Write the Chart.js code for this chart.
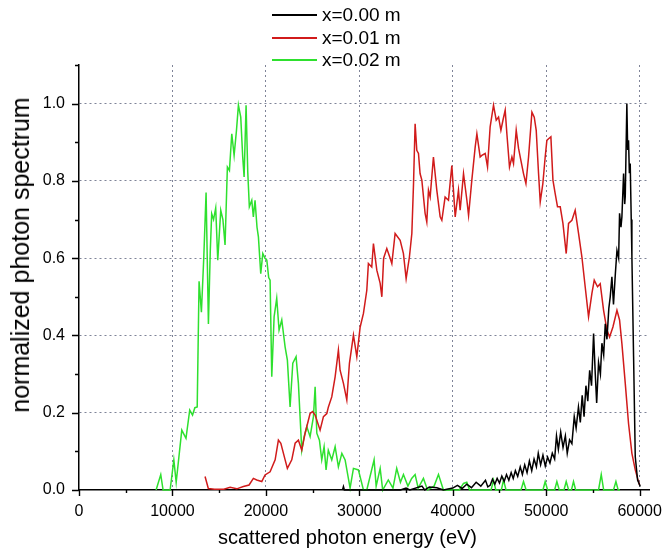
<!DOCTYPE html>
<html>
<head>
<meta charset="utf-8">
<script src="https://cdn.jsdelivr.net/npm/chart.js@4.4.1/dist/chart.umd.min.js"></script>
<style>
    html, body {
        margin: 0;
        padding: 0;
        background: #fff;
    }
    .wrap {
        position: relative;
        width: 663px;
        height: 548px;
        overflow: hidden;
        font-family: "Liberation Sans", Arial, sans-serif;
    }
    #cSpec {
        position: absolute;
        left: 0;
        top: 0;
    }
    .legend {
        position: absolute;
        left: 272px;
        top: 4px;
    }
    .legend-item {
        display: flex;
        align-items: center;
        height: 22.5px;
        font-size: 19px;
        color: #000;
        white-space: nowrap;
    }
    .legend-line {
        display: inline-block;
        width: 45px;
        height: 1.6px;
        margin-right: 5px;
    }
    .x-title {
        position: absolute;
        left: 0;
        width: 695px;
        top: 525px;
        text-align: center;
        font-size: 20px;
        line-height: 24px;
    }
    .y-title {
        position: absolute;
        left: 20px;
        top: 255px;
        font-size: 25px;
        line-height: 26px;
        white-space: nowrap;
        transform: translate(-50%, -50%) rotate(-90deg);
    }
</style>
</head>
<body>
<div class="wrap">
    <canvas id="cSpec" width="663" height="548"></canvas>
    <div class="legend" id="legend"></div>
    <div class="y-title">normalized photon spectrum</div>
    <div class="x-title">scattered photon energy (eV)</div>
</div>

<script>
/* data */

const LABELS = ["x=0.00 m", "x=0.01 m", "x=0.02 m"];
const COLORS = ["#000000", "#d11b1b", "#2ee02e"];

const X_TICKS = [0, 10000, 20000, 30000, 40000, 50000, 60000];
const Y_TICKS = [0, 0.2, 0.4, 0.6, 0.8, 1.0];

// x = 0.00 m (black)
const blackE = [28200, 28300, 28400, 34400, 35000, 35400, 36700, 37000, 37500, 38300, 39000,
    40000, 40500, 41000, 41500, 42000, 42500, 43000, 43500, 43750,
    44000, 44250, 44500, 44750, 45000, 45250, 45500, 45750, 46000, 46250, 46470, 46700,
    46950, 47220, 47450, 47700, 47950, 48200, 48450, 48700, 48950, 49150, 49400, 49650,
    49900, 50150, 50400, 50650, 50900, 51100, 51300, 51550, 51800, 52050, 52250, 52500,
    52750, 53000, 53200, 53450, 53650, 53850, 54050, 54250, 54450, 54650, 54850, 55070,
    55250, 55400, 55600, 55800, 55960, 56150, 56320, 56500, 56700, 56850, 57030, 57200,
    57400, 57570, 57750, 57850, 58000, 58100, 58280, 58400, 58460, 58630, 58720, 58810,
    58900, 58990, 59100, 59170, 59350, 59530, 59780, 60070];
const blackV = [0, 0.009, 0, 0, 0.005, 0, 0.01, 0, 0.008, 0.006, 0,
    0.005, 0.012, 0.004, 0.015, 0.006, 0.02, 0.01, 0.025, 0.008,
    0.012, 0.028, 0.015, 0.03, 0.018, 0.036, 0.022, 0.04, 0.025, 0.045, 0.03, 0.05,
    0.035, 0.06, 0.04, 0.065, 0.045, 0.075, 0.05, 0.08, 0.06, 0.095, 0.065, 0.09,
    0.062, 0.085, 0.07, 0.095, 0.08, 0.14, 0.105, 0.15, 0.11, 0.14, 0.095, 0.13,
    0.12, 0.19, 0.16, 0.215, 0.175, 0.245, 0.19, 0.27, 0.23, 0.31, 0.27, 0.405,
    0.3, 0.225, 0.33, 0.3, 0.38, 0.35, 0.43, 0.39, 0.47, 0.5, 0.552, 0.48,
    0.56, 0.62, 0.6, 0.716, 0.68, 0.707, 0.819, 0.74, 0.76, 1.0, 0.88, 0.905,
    0.82, 0.845, 0.7, 0.603, 0.345, 0.086, 0.026, 0.009];

// x = 0.01 m (red)
const redE = [13490, 13840, 14500, 15500, 16170, 16880, 17590, 18200, 18660, 19020, 19560,
    19910, 20450, 20990, 21340, 21600, 22060, 22300, 22770, 23130, 23480, 23840, 24200,
    24730, 25000, 25270, 25800, 26160, 26520, 26690, 27050, 27410, 27760, 27940, 28300,
    28660, 28940, 29370, 29730, 30090, 30440, 30800, 30970, 31330, 31510, 31870, 32230,
    32410, 32600, 32940, 33300, 33480, 33830, 34370, 34720, 35010, 35360, 35620, 35800,
    35970, 36150, 36330, 36500, 36690, 37040, 37220, 37400, 37580, 37930, 38290, 38650,
    38830, 39180, 39540, 39900, 40260, 40610, 40790, 41150, 41510, 41690, 42040, 42400,
    42580, 42930, 43110, 43470, 43720, 44000, 44360, 44650, 44900, 45150, 45370, 45610,
    45790, 46070, 46330, 46500, 46790, 47040, 47290, 47570, 47830, 48110, 48470, 48720,
    48930, 49180, 49360, 49640, 49890, 50070, 50250, 50500, 50720, 50960, 51210, 51500,
    51790, 52140, 52390, 52750, 53100, 53460, 53820, 54170, 54530, 54890, 55140, 55490,
    55780, 56140, 56500, 56780, 57140, 57570, 57850, 58100, 58460, 58810, 59170, 59530,
    59780, 59990];
const redV = [0.035, 0.004, 0.002, 0.002, 0.007, 0.003, 0.009, 0.013, 0.03, 0.026, 0.022,
    0.039, 0.047, 0.078, 0.129, 0.121, 0.078, 0.056, 0.078, 0.121, 0.129, 0.103, 0.147,
    0.198, 0.203, 0.194, 0.155, 0.19, 0.198, 0.215, 0.241, 0.293, 0.362, 0.31, 0.276,
    0.233, 0.328, 0.401, 0.345, 0.422, 0.457, 0.517, 0.586, 0.577, 0.638, 0.569, 0.535,
    0.5, 0.6, 0.625, 0.6, 0.586, 0.664, 0.646, 0.612, 0.547, 0.603, 0.664, 0.793,
    0.948, 0.879, 0.871, 0.819, 0.802, 0.716, 0.694, 0.776, 0.758, 0.862, 0.776, 0.707,
    0.698, 0.758, 0.75, 0.84, 0.707, 0.776, 0.724, 0.819, 0.75, 0.711, 0.802, 0.888,
    0.922, 0.862, 0.866, 0.871, 0.836, 0.94, 0.996, 0.957, 0.965, 0.931, 0.957, 0.983,
    0.922, 0.836, 0.862, 0.845, 0.931, 0.884, 0.853, 0.819, 0.793, 0.862, 0.978, 0.965,
    0.931, 0.819, 0.746, 0.793, 0.862, 0.905, 0.909, 0.914, 0.802, 0.767, 0.733, 0.733,
    0.69, 0.612, 0.69, 0.698, 0.724, 0.664, 0.603, 0.526, 0.448, 0.509, 0.543, 0.526,
    0.534, 0.465, 0.414, 0.396, 0.422, 0.465, 0.44, 0.379, 0.276, 0.172, 0.095, 0.052,
    0.03, 0.013];

// x = 0.02 m (green)
const greenE = [8250, 8750, 9000, 9750, 10150, 10400, 11000, 11450, 11850, 12150, 12400,
    12650, 12850, 13100, 13350, 13600, 13850, 14050, 14200, 14400, 14630, 14850, 15170,
    15400, 15630, 15880, 16100, 16350, 16600, 16850, 17060, 17310, 17520, 17670, 17880,
    18060, 18230, 18490, 18660, 18840, 19050, 19200, 19450, 19670, 19900, 20100, 20300,
    20450, 20630, 20880, 21160, 21410, 21700, 22060, 22300, 22590, 22880, 23230, 23480,
    23840, 24090, 24380, 24730, 25090, 25270, 25450, 25730, 25980, 26230, 26440, 26680,
    27050, 27410, 27760, 28130, 28480, 29010, 29370, 29900, 30440, 30800, 31580, 31800,
    32230, 32500, 33100, 33600, 34000, 34400, 34720, 35200, 35600, 35970, 36300, 36860,
    37300, 38000, 38470, 39000, 40700, 41150, 41500, 41800, 44100, 44360, 44600, 45200,
    45430, 45700, 47300, 47570, 47850, 49650, 49890, 50150, 50900, 51140, 51400, 51900,
    52140, 52400, 52700, 52920, 53150, 55600, 55890, 56150, 57200, 57460, 57700, 57900];
const greenV = [0, 0.04, 0, 0, 0.078, 0.02, 0.155, 0.134, 0.207, 0.194, 0.213,
    0.215, 0.54, 0.46, 0.6, 0.77, 0.43, 0.62, 0.715, 0.7, 0.73, 0.595, 0.724,
    0.7, 0.634, 0.836, 0.827, 0.922, 0.866, 0.93, 0.996, 0.965, 0.862, 0.81, 0.996,
    0.823, 0.733, 0.75, 0.707, 0.75, 0.68, 0.655, 0.56, 0.612, 0.6, 0.595, 0.55,
    0.543, 0.293, 0.448, 0.496, 0.414, 0.44, 0.37, 0.336, 0.215, 0.328, 0.345, 0.276,
    0.103, 0.138, 0.164, 0.138, 0.19, 0.267, 0.147, 0.129, 0.078, 0.112, 0.052, 0.103,
    0.078, 0.112, 0.06, 0.095, 0.078, 0.005, 0.056, 0.052, 0, 0, 0.078, 0.01,
    0.056, 0, 0.026, 0.005, 0.056, 0.02, 0.04, 0.01, 0.03, 0.04, 0.005, 0.03,
    0, 0.01, 0.04, 0, 0, 0.017, 0.02, 0, 0, 0.026, 0, 0,
    0.026, 0, 0, 0.022, 0, 0, 0.022, 0, 0, 0.022, 0, 0,
    0.022, 0, 0, 0.022, 0, 0, 0.04, 0, 0, 0.022, 0, 0];

// axes
const X_MAX = 61000;
const X_MINOR = 5000;
const Y_MAX = 1.1;
const Y_MINOR = 0.1;

/* helpers */

const toPoints = (xs, ys) => xs.map((x, i) => ({ x, y: ys[i] }));

function buildLegend(containerId, labels, colors) {
    const el = document.getElementById(containerId);
    el.innerHTML = labels.map((lbl, i) => `
        <div class="legend-item">
            <span class="legend-line" style="background:${colors[i]}"></span>${lbl}
        </div>
    `).join("");
}

const GRID = "#7f8498";
const FONT = { family: "'Liberation Sans', Arial, sans-serif", size: 16 };

// small outside tick marks, major + minor
const tickMarks = {
    id: "tickMarks",
    afterDraw(chart) {
        const { ctx, chartArea, scales: { x, y } } = chart;
        ctx.save();
        ctx.strokeStyle = "#000";
        ctx.lineWidth = 1.4;
        ctx.beginPath();
        for (let i = 0; i * X_MINOR <= X_MAX; i++) {
            const px = Math.round(x.getPixelForValue(i * X_MINOR)) + 0.5;
            const len = i % 2 === 0 ? 6 : 3;
            ctx.moveTo(px, chartArea.bottom);
            ctx.lineTo(px, chartArea.bottom + len);
        }
        for (let i = 0; i * Y_MINOR <= Y_MAX + 1e-9; i++) {
            const py = Math.round(y.getPixelForValue(i * Y_MINOR)) + 0.5;
            const len = i % 2 === 0 ? 7 : 4;
            ctx.moveTo(chartArea.left - len, py);
            ctx.lineTo(chartArea.left, py);
        }
        ctx.stroke();
        ctx.restore();
    }
};

const gridColor = c => (c.tick && c.tick.value > 0 ? GRID : "transparent");

/* chart */

buildLegend("legend", LABELS, COLORS);

const series = [
    toPoints(blackE, blackV),
    toPoints(redE, redV),
    toPoints(greenE, greenV)
];

new Chart(document.getElementById("cSpec"), {
    type: "line",
    data: {
        datasets: series.map((pts, i) => ({
            label: LABELS[i],
            data: pts,
            borderColor: COLORS[i],
            borderWidth: 1.5,
            pointRadius: 0,
            tension: 0,
            fill: false,
            clip: false
        }))
    },
    options: {
        responsive: false,
        animation: false,
        layout: {
            padding: { top: 65, right: 14, left: 0, bottom: 0 }
        },
        plugins: {
            legend: { display: false },
            tooltip: { enabled: false }
        },
        scales: {
            x: {
                type: "linear",
                min: 0,
                max: X_MAX,
                afterFit: s => {
                    s.height = 58;
                    s.paddingLeft = 0;
                    s.paddingRight = 0;
                },
                afterBuildTicks: s => {
                    s.ticks = X_TICKS.map(v => ({ value: v }));
                },
                ticks: {
                    autoSkip: false,
                    color: "#000",
                    font: FONT,
                    padding: 12,
                    maxRotation: 0,
                    callback: v => String(v)
                },
                grid: {
                    drawTicks: false,
                    tickLength: 0,
                    lineWidth: 1,
                    color: gridColor
                },
                border: {
                    display: true,
                    color: "#000",
                    width: 1.5,
                    dash: [2, 3]
                }
            },
            y: {
                min: 0,
                max: Y_MAX,
                afterFit: s => {
                    s.width = 79;
                    s.paddingTop = 0;
                    s.paddingBottom = 0;
                },
                afterBuildTicks: s => {
                    s.ticks = Y_TICKS.map(v => ({ value: v }));
                },
                ticks: {
                    autoSkip: false,
                    color: "#000",
                    font: FONT,
                    padding: 14,
                    callback: v => v.toFixed(1)
                },
                grid: {
                    drawTicks: false,
                    tickLength: 0,
                    lineWidth: 1,
                    color: gridColor
                },
                border: {
                    display: true,
                    color: "#000",
                    width: 1.5,
                    dash: [2, 3]
                }
            }
        }
    },
    plugins: [tickMarks]
});
</script>
</body>
</html>
